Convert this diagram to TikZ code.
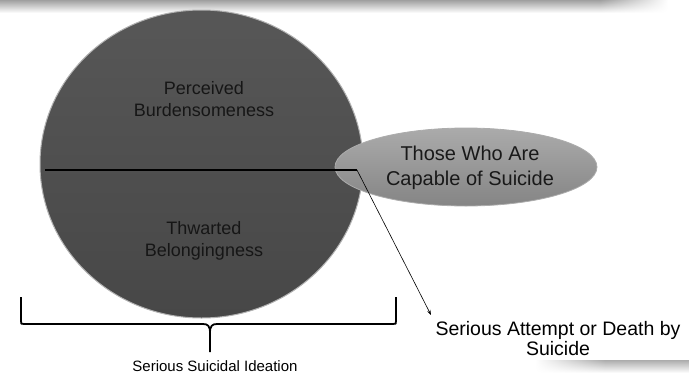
\documentclass[tikz,border=0pt]{standalone}
\usepackage{fontspec}
\setmainfont{Liberation Sans}
\usetikzlibrary{shapes.geometric,arrows.meta,fadings}
\definecolor{circfill}{HTML}{575757}
\definecolor{circdark}{HTML}{474747}
\definecolor{ellfill}{HTML}{9C9C9C}
\definecolor{txtdark}{HTML}{161616}
\tikzfading[name=fadeleft, left color=transparent!100, right color=transparent!0]
\tikzfading[name=faderight, left color=transparent!0, right color=transparent!100]
\tikzset{
  bigcircle/.style={ellipse, inner sep=0pt, minimum width=323pt, minimum height=308pt,
    top color=circfill, bottom color=circdark, draw=gray!60, line width=1pt},
  capable/.style={ellipse, inner sep=0pt, minimum width=262pt, minimum height=78pt,
    top color=ellfill!85!white, bottom color=ellfill!85!black, draw=gray!65, line width=0.8pt},
  intext/.style={align=center, text=txtdark, font=\fontsize{18}{22}\selectfont},
  elltext/.style={align=center, text=black!90, font=\fontsize{20}{25}\selectfont},
  outtext/.style={align=center, text=black, font=\fontsize{19.5}{20}\selectfont},
  bracetext/.style={align=center, text=black, font=\fontsize{15}{18}\selectfont},
  divider/.style={line width=1.8pt, black},
  pointer/.style={line width=0.6pt, black, -{Stealth[length=5pt,width=3.5pt]}},
  bracepath/.style={line width=1.8pt, black, line join=round}
}
\begin{document}
\begin{tikzpicture}[x=1pt,y=-1pt]
\useasboundingbox (0,0) rectangle (689,373);
% shadow fragments of neighbouring boxes
\shade[top color=gray!75, bottom color=white, path fading=faderight] (600,0) rectangle (668,13);
\shade[top color=gray!75, bottom color=white] (0,0) rectangle (600,13);
\shade[top color=gray!65, bottom color=white, path fading=fadeleft] (535,360) rectangle (605,373);
\shade[top color=gray!65, bottom color=white] (605,360) rectangle (689,373);
% main shapes
\node[bigcircle] (circ) at (201.5,164) {};
\node[capable] (ell) at (466,167) {};
\node[elltext] (elltxt) at (470,168) {Those Who Are\\Capable of Suicide};
\node[intext] (pb) at (204,99) {Perceived\\Burdensomeness};
\node[intext] (tb) at (204,241) {Thwarted\\Belongingness};
% divider and pointer
\coordinate (dl) at (45,170);
\coordinate (dr) at (357,170);
\node[outtext, anchor=center] (att) at (558,339) {Serious Attempt or Death by\\Suicide};
\coordinate (tip) at (431,315);
\draw[divider] (dl) -- (dr);
\draw[pointer] (dr) -- (tip);
% brace
\coordinate (bl) at (21,297);
\coordinate (br) at (396,297);
\coordinate (bt) at (210,352);
\draw[bracepath] (bl) -- (21,321) .. controls (21,324) .. (24,324) -- (203,324)
  .. controls (208,324) and (210,326) .. (210,333) -- (bt);
\draw[bracepath] (br) -- (396,321) .. controls (396,324) .. (393,324) -- (217,324)
  .. controls (212,324) and (210,326) .. (210,333);
\node[bracetext] (ssi) at (215,366) {Serious Suicidal Ideation};
\end{tikzpicture}
\end{document}
